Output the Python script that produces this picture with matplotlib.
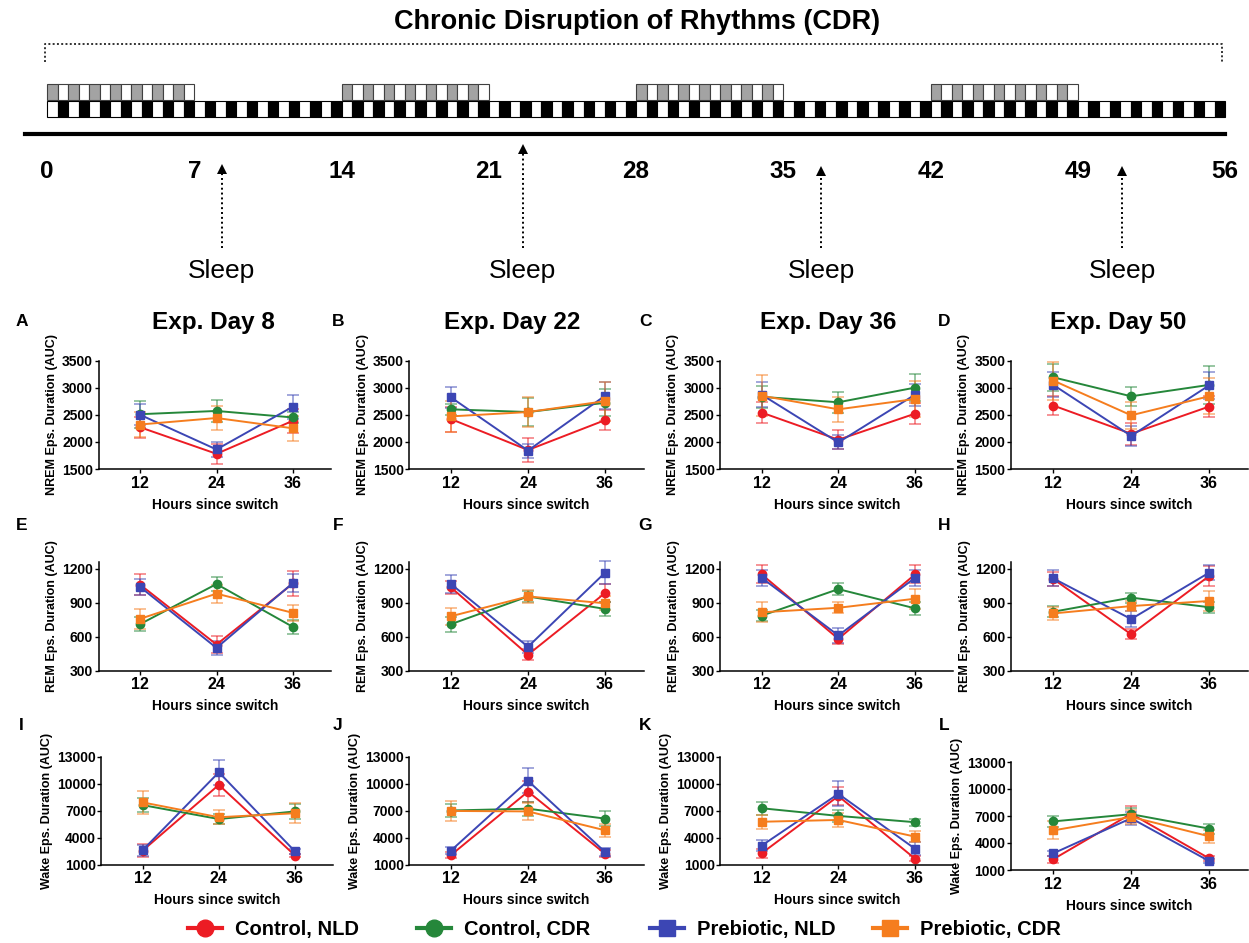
import matplotlib.pyplot as plt
from matplotlib.patches import Rectangle
from matplotlib.lines import Line2D
from matplotlib.colors import to_rgba

plt.rcParams['font.family'] = ['Liberation Sans', 'DejaVu Sans']
plt.rcParams['font.weight'] = 'bold'
plt.rcParams['axes.labelweight'] = 'bold'

W, H = 1249, 943

# ---- schedule ----
total_days = 56
nld_blocks = [(0, 7), (14, 21), (28, 35), (42, 49)]
day_ticks = [0, 7, 14, 21, 28, 35, 42, 49, 56]
sleep_days = [8.3, 22.6, 36.8, 51.1]

# ---- recordings ----
hours = [12, 24, 36]
groups = ["Control, NLD", "Control, CDR", "Prebiotic, NLD", "Prebiotic, CDR"]
colors = ["#ec1c24", "#25873a", "#3c46b4", "#f57d1e"]
markers = ["o", "o", "s", "s"]
exp_days = [8, 22, 36, 50]
panel_letters = ["A", "B", "C", "D", "E", "F", "G", "H", "I", "J", "K", "L"]

# mean per day -> group -> hour
nrem_mean = [
    [[2270, 1780, 2390], [2510, 2570, 2450], [2500, 1860, 2650], [2320, 2440, 2250]],
    [[2420, 1850, 2400], [2600, 2550, 2720], [2820, 1840, 2850], [2470, 2550, 2750]],
    [[2540, 2040, 2520], [2830, 2730, 3000], [2870, 1990, 2870], [2850, 2600, 2790]],
    [[2670, 2150, 2650], [3190, 2840, 3050], [3050, 2110, 3040], [3130, 2490, 2840]],
]
nrem_sem = [
    [[190, 180, 220], [250, 200, 100], [190, 140, 220], [230, 220, 230]],
    [[230, 220, 180], [100, 250, 250], [190, 130, 250], [280, 280, 360]],
    [[200, 170, 190], [200, 190, 250], [230, 130, 200], [380, 230, 330]],
    [[180, 200, 200], [250, 180, 350], [230, 180, 250], [350, 250, 330]],
]
rem_mean = [
    [[1060, 530, 1070], [710, 1065, 685], [1040, 500, 1075], [757, 980, 810]],
    [[1035, 440, 985], [710, 955, 845], [1065, 510, 1165], [780, 955, 895]],
    [[1150, 580, 1150], [785, 1020, 850], [1120, 610, 1120], [815, 855, 935]],
    [[1110, 620, 1135], [820, 945, 860], [1115, 755, 1165], [805, 870, 915]],
]
rem_sem = [
    [[90, 75, 110], [60, 60, 65], [70, 60, 80], [90, 80, 70]],
    [[55, 50, 80], [65, 50, 65], [80, 55, 100], [75, 55, 60]],
    [[80, 45, 80], [50, 55, 60], [70, 65, 70], [90, 50, 90]],
    [[60, 45, 90], [50, 45, 50], [70, 70, 65], [60, 45, 85]],
]
wake_mean = [
    [[2550, 9850, 2000], [7600, 6050, 6900], [2600, 11250, 2450], [7900, 6250, 6700]],
    [[2050, 9100, 2200], [7000, 7200, 6100], [2550, 10300, 2400], [6950, 6900, 4800]],
    [[2250, 8600, 1650], [7250, 6400, 5700], [3100, 8850, 2750], [5750, 5950, 4100]],
    [[2200, 7250, 2300], [6400, 7200, 5600], [2850, 6750, 2000], [5400, 6900, 4750]],
]
wake_sem = [
    [[700, 1200, 200], [800, 600, 800], [600, 1400, 300], [1300, 800, 1100]],
    [[350, 1200, 400], [700, 800, 800], [350, 1400, 400], [1100, 900, 700]],
    [[500, 1000, 300], [700, 700, 400], [600, 1400, 700], [800, 800, 600]],
    [[400, 900, 300], [600, 700, 550], [300, 700, 250], [1000, 800, 750]],
]

measures = [
    ("NREM Eps. Duration (AUC)", nrem_mean, nrem_sem, (1500, 3500), [1500, 2000, 2500, 3000, 3500]),
    ("REM Eps. Duration (AUC)", rem_mean, rem_sem, (300, 1260), [300, 600, 900, 1200]),
    ("Wake Eps. Duration (AUC)", wake_mean, wake_sem, (1000, 13000), [1000, 4000, 7000, 10000, 13000]),
]

fig = plt.figure(figsize=(W / 100, H / 100), dpi=100)

# ---- top schematic, x in days, y in pixels from the top ----
px_per_day = 21.04
x0 = 47
sch = fig.add_axes([0, 0, 1, 1], zorder=-1)
sch.set_xlim(-x0 / px_per_day, (W - x0) / px_per_day)
sch.set_ylim(H, 0)
sch.axis("off")
sch.patch.set_alpha(0)

fig.text(0.51, 1 - 22 / H, "Chronic Disruption of Rhythms (CDR)", ha="center", va="center",
         fontsize=19.5, weight="bold")

sch.plot([-0.1, -0.1, 55.85, 55.85], [62, 44, 44, 62], ls=(0, (1, 1.2)), lw=1.4, color="#333333")

for s, e in nld_blocks:
    for d in range(s, e):
        sch.add_patch(Rectangle((d, 84), 0.5, 16, fc="#a3a3a3", ec="#404040", lw=0.8))
        sch.add_patch(Rectangle((d + 0.5, 84), 0.5, 16, fc="white", ec="#404040", lw=0.8))
for d in range(total_days):
    sch.add_patch(Rectangle((d, 101), 0.5, 16, fc="white", ec="black", lw=0.8))
    sch.add_patch(Rectangle((d + 0.5, 101), 0.5, 16, fc="black", ec="black", lw=0.8))

sch.plot([-1.05, total_days], [134, 134], color="black", lw=3)

for d in day_ticks:
    sch.text(d, 171, str(d), ha="center", va="center", fontsize=17.5, weight="bold")

arrow_tips = [165, 145, 167, 167]
for sd, tip in zip(sleep_days, arrow_tips):
    sch.plot([sd, sd], [248, tip + 6], ls=(0, (1, 1.5)), lw=1.4, color="black")
    sch.plot([sd], [tip + 4], marker="^", ms=7, color="black", mew=0)
    sch.text(sd, 271, "Sleep", ha="center", va="center", fontsize=19, weight="normal")

# ---- panels ----
col_px = [(140, 293), (451, 605), (761.7, 915), (1053.3, 1209)]
row_px = [(360.5, 469), (562, 670.5), (756.5, 864.5)]
title_x = [213, 512, 828, 1118]
letter_x = [21.5, 338, 645.5, 944]
letter_y = [321, 526, 725]
xlo, xhi = 5.5, 42

for r, (ylab, means, sems, ylim, yticks) in enumerate(measures):
    for c in range(4):
        x12, x36 = col_px[c]
        top, bot = row_px[r]
        if r == 2 and c == 0:
            x12, x36 = 142.7, 295
        if r == 2 and c == 3:
            top, bot = 762, 870
        ppu = (x36 - x12) / 24
        left = x12 - (12 - xlo) * ppu
        right = x36 + (xhi - 36) * ppu
        ax = fig.add_axes([left / W, 1 - bot / H, (right - left) / W, (bot - top) / H])
        for g in range(4):
            ax.errorbar(hours, means[c][g], yerr=sems[c][g], color=colors[g],
                        ecolor=to_rgba(colors[g], 0.6), marker=markers[g], ms=6,
                        lw=1.4, elinewidth=1.1, capsize=4, capthick=1.1, clip_on=False)
        ax.set_xlim(xlo, xhi)
        ax.set_ylim(*ylim)
        ax.set_xticks(hours)
        ax.set_yticks(yticks)
        ax.tick_params(axis="x", labelsize=11.5, length=3, width=1, pad=2)
        ax.tick_params(axis="y", labelsize=10, length=3, width=1, pad=1)
        for sp in ["top", "right"]:
            ax.spines[sp].set_visible(False)
        for sp in ["left", "bottom"]:
            ax.spines[sp].set_linewidth(1.1)
        ax.set_ylabel(ylab, fontsize=9, labelpad=3)
        ax.set_xlabel("Hours since switch", fontsize=10, labelpad=5)
        ax.patch.set_alpha(0)
        fig.text(letter_x[c] / W, 1 - letter_y[r] / H, panel_letters[r * 4 + c],
                 ha="center", va="center", fontsize=12.5, weight="bold")
        if r == 0:
            fig.text(title_x[c] / W, 1 - 322 / H, "Exp. Day %d" % exp_days[c],
                     ha="center", va="center", fontsize=17.5, weight="bold")

# ---- legend ----
legend_x = [188, 417, 650, 873]
for g in range(4):
    h = Line2D([], [], color=colors[g], marker=markers[g], ms=12, lw=3)
    fig.legend([h], [groups[g]], loc="center left", bbox_to_anchor=(legend_x[g] / W, 1 - 930 / H),
               frameon=False, fontsize=14.5, handlelength=1.7, handletextpad=0.65,
               borderpad=0, borderaxespad=0)

fig.savefig("out.png", dpi=100)
